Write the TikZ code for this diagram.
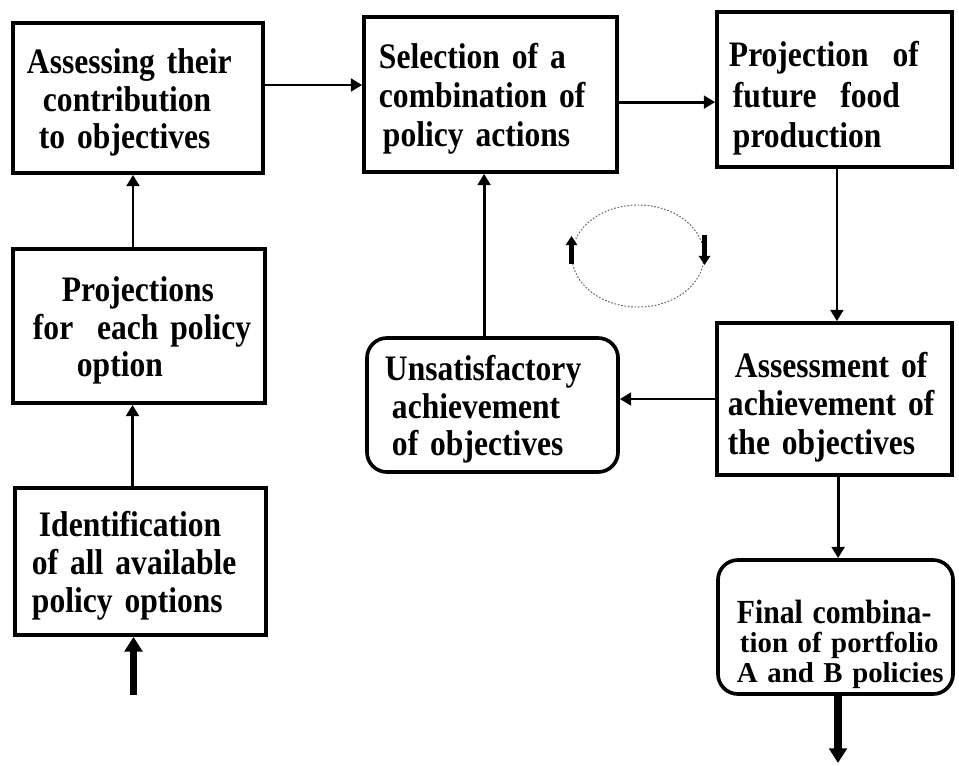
\documentclass[tikz,border=0pt]{standalone}
\usepackage{fontspec}
\setmainfont{Liberation Serif}[FakeStretch=0.88]
\newfontfamily\plainserif{Liberation Serif}
\usetikzlibrary{arrows.meta,calc,shapes.geometric}
\newlength\pxu
\setlength\pxu{0.025cm}
\newcommand\indpx[1]{\hspace*{#1\pxu}}

\begin{document}
\begin{tikzpicture}[x=0.025cm, y=-0.025cm,
		box/.style={draw, line width=2.6pt, inner xsep=0pt, inner ysep=0pt, align=left,
			font=\fontsize{25.5}{26.8}\selectfont\bfseries, topstrut=24pt},
		topstrut/.style={execute at begin node=\rule{0pt}{#1}},
		rbox/.style={box, rounded corners=0.5cm},
		conn/.style={line width=2pt, -{Triangle[length=8pt, width=9pt]}},
		bigconn/.style={line width=5pt, -{Triangle[length=10.5pt, width=12.5pt]}},
		turn/.style={line width=3pt, -{Triangle[length=6.5pt, width=8pt]}}]
	\useasboundingbox (0,0) rectangle (959,765);

	\node[box, minimum width=6.25cm, text width=6.25cm, minimum height=3.75cm] (assess) at (138,98)
		{\indpx{14}Assessing their\\\indpx{30}contribution\\\indpx{26}to objectives};
	\node[box, minimum width=6.325cm, text width=6.325cm, minimum height=3.875cm,
		font=\fontsize{25.5}{27.5}\selectfont\bfseries] (select) at (490.5,94.5)
		{\indpx{15}Selection of a\\\indpx{15}combination of\\\indpx{19}policy actions};
	\node[box, minimum width=5.875cm, text width=5.875cm, minimum height=3.875cm,
		font=\fontsize{25.5}{28.8}\selectfont\bfseries, topstrut=30.5pt] (proj) at (834.5,89.5)
		{\indpx{12}Projection\ \ of\\\indpx{16}future\ \ food\\\indpx{16}production};
	\node[box, minimum width=6.3cm, text width=6.3cm, minimum height=3.85cm] (projs) at (139,326)
		{\indpx{49}Projections\\\indpx{20}for\ \ each policy\\\indpx{64}option};
	\node[box, minimum width=6.275cm, text width=6.275cm, minimum height=3.675cm] (ident) at (140.5,561.5)
		{\indpx{24}Identification\\\indpx{17}of all available\\\indpx{17}policy options};
	\node[rbox, minimum width=6.275cm, text width=6.275cm, minimum height=3.35cm] (unsat) at (492.5,405)
		{\indpx{18}Unsatisfactory\\\indpx{25}achievement\\\indpx{25}of objectives};
	\node[box, minimum width=5.875cm, text width=5.875cm, minimum height=3.8cm,
		font=\fontsize{25.5}{27.3}\selectfont\bfseries, topstrut=29.5pt] (achv) at (834.5,399)
		{\indpx{18}Assessment of\\\indpx{11}achievement of\\\indpx{11}the objectives};
	\node[rbox, minimum width=5.875cm, text width=5.875cm, minimum height=3.35cm,
		font=\plainserif\bfseries\fontsize{20.5}{21}\selectfont, topstrut=41pt] (final) at (835.5,627)
		{\indpx{19}{\rmfamily\fontsize{24}{21}\selectfont Final combina-}\\\indpx{22}tion of portfolio\\\indpx{19}A and B policies};

	\coordinate (start) at (133.5,695);
	\coordinate (stop) at (838,763);

	\draw[bigconn] (start) -- (start |- ident.south);
	\draw[conn] ([xshift=-0.2cm]ident.north) -- ([xshift=-0.2cm]ident.north |- projs.south);
	\draw[conn] ([xshift=-0.15cm]projs.north) -- ([xshift=-0.15cm]projs.north |- assess.south);
	\draw[conn] ([yshift=0.325cm]assess.east) -- ([yshift=0.325cm]assess.east -| select.west);
	\draw[conn] ([yshift=-0.19cm]select.east) -- ([yshift=-0.19cm]select.east -| proj.west);
	\draw[conn] ([xshift=0.06cm]proj.south) -- ([xshift=0.06cm]proj.south |- achv.north);
	\draw[conn] (achv.west) -- (achv.west -| unsat.east);
	\draw[conn] ([xshift=-0.21cm]unsat.north) -- ([xshift=-0.21cm]unsat.north |- select.south);
	\draw[conn] ([xshift=0.09cm]achv.south) -- ([xshift=0.09cm]achv.south |- final.north);
	\draw[bigconn] (stop |- final.south) -- (stop);

	% feedback loop sign
	\node[draw=black!60, ellipse, line width=0.7pt, dash pattern=on 1.2pt off 1.2pt,
		minimum width=3.3cm, minimum height=2.55cm, inner sep=0pt] (loop) at (638,256) {};
	\draw[turn] ($(loop.west)+(0,8)$) -- ($(loop.west)+(0,-20)$);
	\draw[turn] ($(loop.east)+(0,-21)$) -- ($(loop.east)+(0,9)$);
\end{tikzpicture}
\end{document}
